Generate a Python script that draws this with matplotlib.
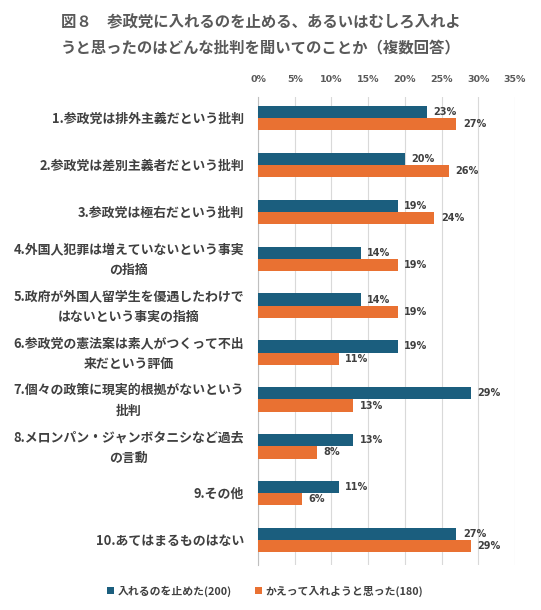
import matplotlib
matplotlib.use("Agg")
import matplotlib.pyplot as plt
import matplotlib.transforms as mtransforms
import numpy as np

plt.rcParams['font.family'] = ['Noto Sans CJK JP', 'DejaVu Sans']

categories = [
    "1.参政党は排外主義だという批判",
    "2.参政党は差別主義者だという批判",
    "3.参政党は極右だという批判",
    "4.外国人犯罪は増えていないという事実\nの指摘",
    "5.政府が外国人留学生を優遇したわけで\nはないという事実の指摘",
    "6.参政党の憲法案は素人がつくって不出\n来だという評価",
    "7.個々の政策に現実的根拠がないという\n批判",
    "8.メロンパン・ジャンボタニシなど過去\nの言動",
    "9.その他",
    "10.あてはまるものはない",
]
stopped = [23, 20, 19, 14, 14, 19, 29, 13, 11, 27]
instead = [27, 26, 24, 19, 19, 11, 13, 8, 6, 29]
series_names = ["入れるのを止めた(200)", "かえって入れようと思った(180)"]
xticks = [0, 5, 10, 15, 20, 25, 30, 35]
title = "図８　参政党に入れるのを止める、あるいはむしろ入れよ\nうと思ったのはどんな批判を聞いてのことか（複数回答）"

teal = "#1B5E7E"
orange = "#E97132"
textc = "#404040"

fig = plt.figure(figsize=(5.41, 6.10), dpi=100)
ax = fig.add_axes([258/541, 1-565/610, (515-258)/541, (565-97)/610])

y = np.arange(len(categories))
h = 0.26
b1 = ax.barh(y - h/2, stopped, height=h, color=teal, zorder=3)
b2 = ax.barh(y + h/2, instead, height=h, color=orange, zorder=3)

for bars, vals in ((b1, stopped), (b2, instead)):
    for rect, v in zip(bars, vals):
        ax.text(rect.get_width() + 0.9, rect.get_y() + rect.get_height()/2,
                f"{v}%", va="center", ha="left", fontsize=7.0,
                color=textc, fontweight="bold", family="DejaVu Sans")

ax.set_xlim(0, 35)
ax.set_ylim(9.53, -0.45)
ax.set_xticks(xticks)
ax.set_xticklabels([f"{t}%" for t in xticks], fontsize=6.8, color="#595959",
                   fontweight="bold", family="DejaVu Sans")
ax.xaxis.tick_top()
ax.tick_params(axis="x", length=0, pad=9)
ax.set_yticks([])
ax.grid(axis="x", color="#D9D9D9", linewidth=0.8, zorder=0)
for s in ["top", "right", "bottom"]:
    ax.spines[s].set_visible(False)
ax.spines["left"].set_color("#BFBFBF")
ax.spines["left"].set_linewidth(0.8)

trans = mtransforms.blended_transform_factory(fig.transFigure, ax.transData)
for i, c in enumerate(categories):
    ax.text(244/541, i + 0.02, c, transform=trans, ha="right", va="center",
            multialignment="center", fontsize=9.3, color=textc,
            fontweight="bold", linespacing=1.59)

fig.text(261/541, 1-35/610, title, ha="center", va="center", fontsize=11.1,
         color="#595959", fontweight="bold", linespacing=1.65)

leg = fig.legend([b1, b2], series_names, loc="center", bbox_to_anchor=(265/541, 1-591/610),
                 ncol=2, frameon=False, fontsize=7.8, handlelength=0.6, handleheight=0.6,
                 handletextpad=0.3, columnspacing=2.2)
for t in leg.get_texts():
    t.set_color(textc)
    t.set_fontweight("bold")

fig.savefig("out.png", dpi=100, facecolor="white")
